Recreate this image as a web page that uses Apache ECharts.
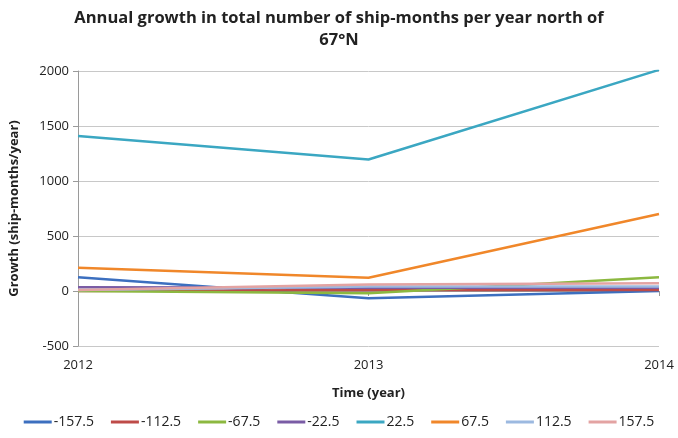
<!DOCTYPE html>
<html><head><meta charset="utf-8">
<script src="https://cdn.jsdelivr.net/npm/echarts@6/dist/echarts.min.js"></script>
<style>html,body{margin:0;padding:0;background:#fff}#c{width:678px;height:438px}</style>
</head><body><div id="c"></div>
<script>
const years = ['2012', '2013', '2014'];
const seriesNames = ['-157.5', '-112.5', '-67.5', '-22.5', '22.5', '67.5', '112.5', '157.5'];
const s_m157 = [125, -67, 0];
const s_m112 = [0, 10, 10];
const s_m67 = [0, -20, 125];
const s_m22 = [33, 30, 30];
const s_p22 = [1410, 1195, 2010];
const s_p67 = [211, 120, 700];
const s_p112 = [10, 40, 40];
const s_p157 = [10, 60, 70];
const yTicks = [-500, 0, 500, 1000, 1500, 2000];

const values = [s_m157, s_m112, s_m67, s_m22, s_p22, s_p67, s_p112, s_p157];
const colors = ['#3c6fbf', '#be4b48', '#8cb840', '#7a5ca5', '#3ba7c2', '#f0872a', '#9cb9e0', '#e3a3a2'];
const font = '"Open Sans", sans-serif';

const chart = echarts.init(document.getElementById('c'));
chart.setOption({
  animation: false,
  title: {
    text: 'Annual growth in total number of ship-months per year north of\n67°N',
    left: 'center', top: 2,
    textStyle: { fontFamily: font, fontSize: 16.5, fontWeight: 'bold', color: '#222', lineHeight: 22 }
  },
  grid: { left: 76, right: 19, top: 71, bottom: 92 },
  legend: {
    bottom: 4, left: 'center', itemWidth: 28, itemHeight: 3, itemGap: 17,
    icon: 'rect',
    textStyle: { fontFamily: font, fontSize: 14, color: '#222', padding: [0, 0, 0, -3] },
    data: seriesNames
  },
  xAxis: {
    type: 'category', data: years, boundaryGap: false,
    name: 'Time (year)', nameLocation: 'middle', nameGap: 41,
    nameTextStyle: { fontFamily: font, fontSize: 13, fontWeight: 'bold', color: '#222' },
    axisLine: { lineStyle: { color: '#9a9a9a' } },
    axisTick: { show: true, length: 5, lineStyle: { color: '#9a9a9a' } },
    axisLabel: { fontFamily: font, fontSize: 13, color: '#222', margin: 13 }
  },
  yAxis: {
    type: 'value', min: -500, max: 2000, interval: 500,
    name: 'Growth (ship-months/year)', nameLocation: 'middle', nameGap: 57,
    nameTextStyle: { fontFamily: font, fontSize: 13, fontWeight: 'bold', color: '#222' },
    axisLine: { show: true, lineStyle: { color: '#9a9a9a' } },
    axisTick: { show: true, length: 5, lineStyle: { color: '#9a9a9a' } },
    splitLine: { lineStyle: { color: '#c8c8c8' } },
    axisLabel: { fontFamily: font, fontSize: 13, color: '#222', margin: 9,
      formatter: v => yTicks.includes(v) ? String(v) : '' }
  },
  series: seriesNames.map((n, i) => ({
    name: n, type: 'line', data: values[i], symbol: 'none',
    lineStyle: { width: 2.5, color: colors[i] }, itemStyle: { color: colors[i] },
    clip: true, z: i === 4 || i === 5 ? 3 : 2
  }))
});
</script></body></html>
